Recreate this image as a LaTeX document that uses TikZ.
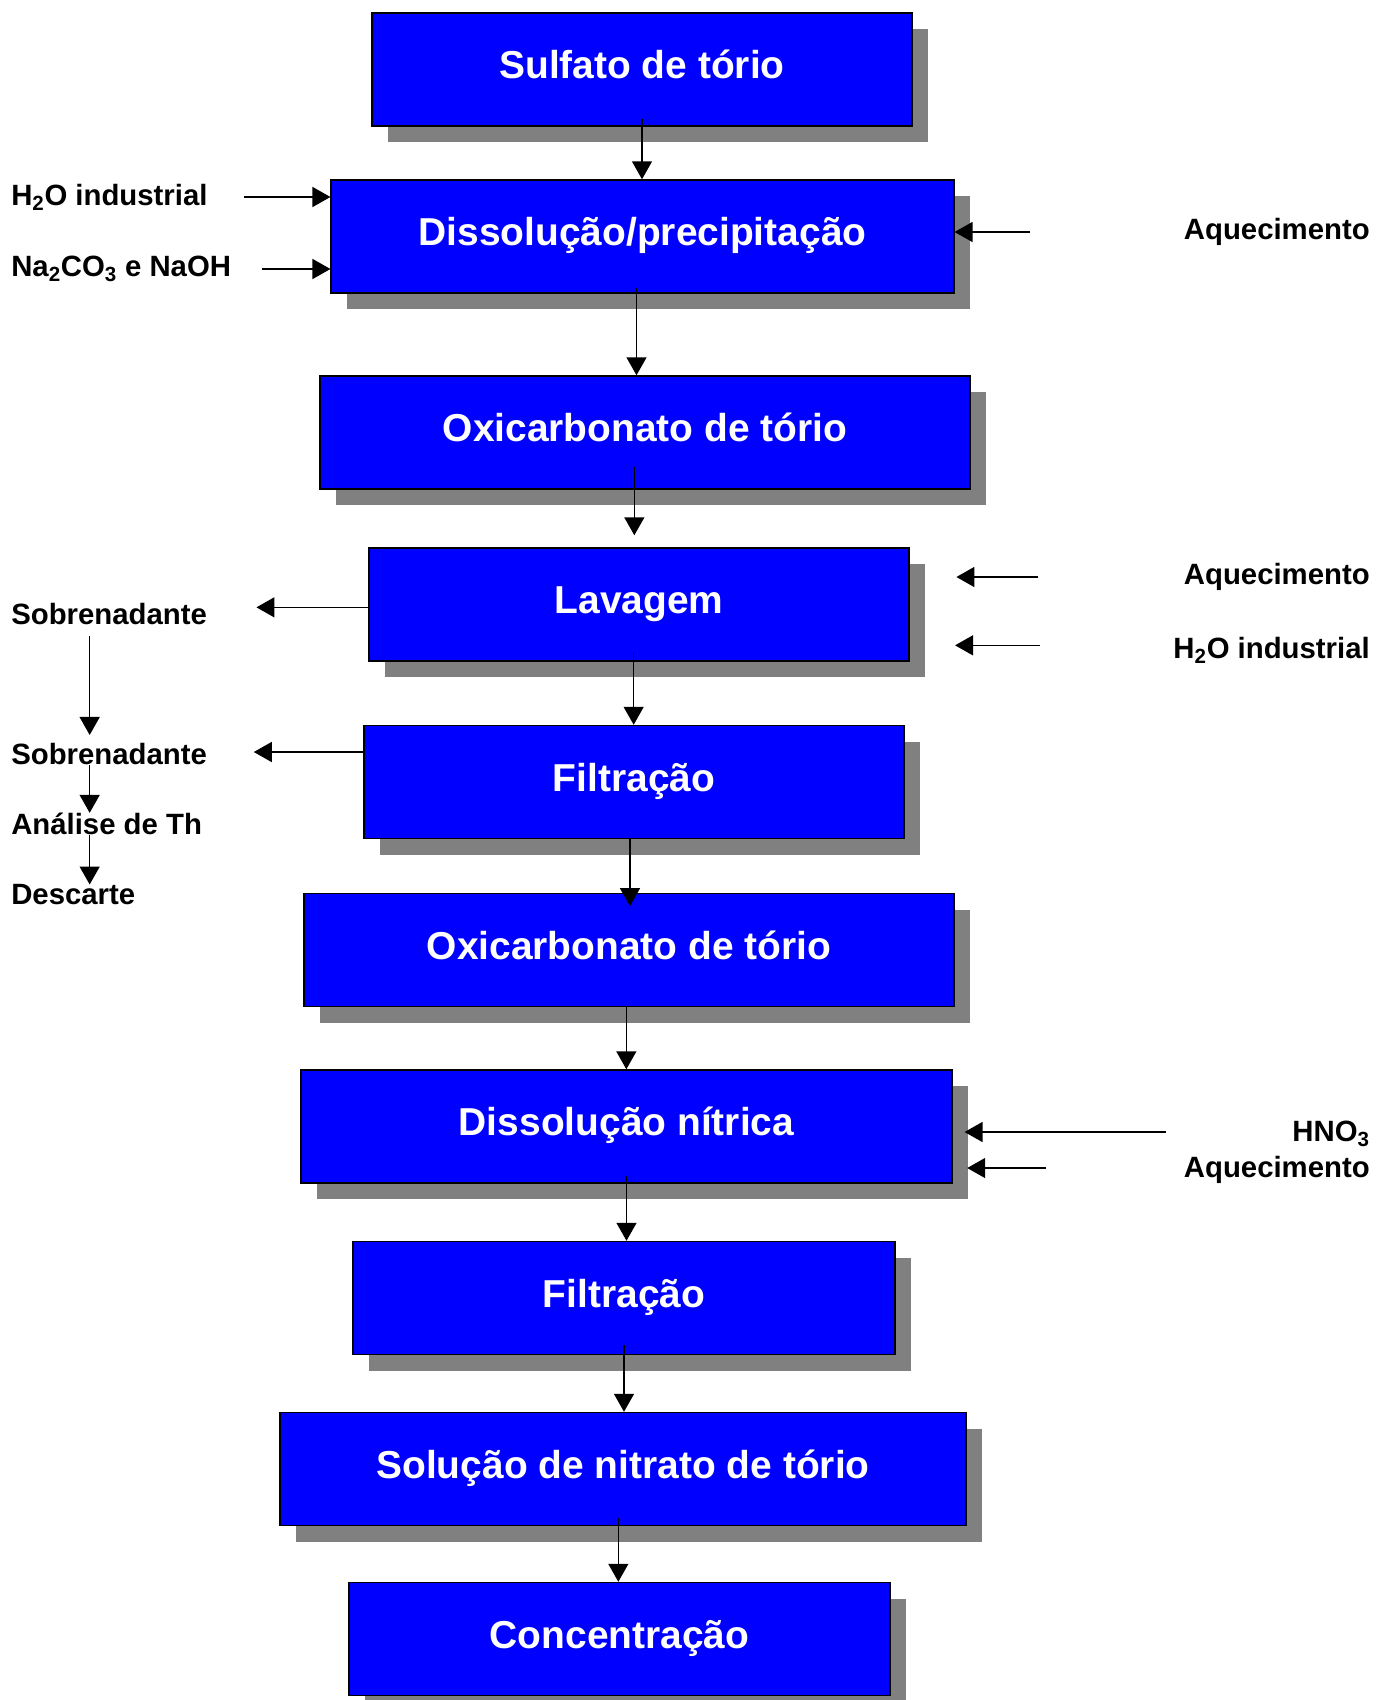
\documentclass[tikz,border=0pt]{standalone}
\usepackage{fontspec}
\setmainfont{Liberation Sans}
\usetikzlibrary{shadows,arrows.meta}

\begin{document}
\begin{tikzpicture}[x=0.75pt, y=-0.75pt,
    etapa/.style ={rectangle, draw=black, line width=1.1pt, fill=blue, text=white,
      font=\fontsize{29.2}{35}\selectfont\bfseries, minimum height=84.75pt, inner sep=0pt,
      text height=21pt, text depth=7pt,
      drop shadow={shadow xshift=12pt, shadow yshift=-12pt, fill=gray, opacity=1}},
    rotulo/.style ={font=\fontsize{22}{26}\selectfont\bfseries, inner sep=0pt},
    seta/.style ={-{Triangle[length=13.5pt, width=15pt]}, line width=1.1pt}]
   \useasboundingbox (0,0) rectangle (1389,1700);

   \node[etapa, minimum width=405pt]   (S) at (642,69.5)    {Sulfato de tório};
   \node[etapa, minimum width=467pt]   (D) at (642.5,236.5) {Dissolução/precipitação};
   \node[etapa, minimum width=487.5pt] (O) at (645,432.5)   {Oxicarbonato de tório};
   \node[etapa, minimum width=405pt]   (L) at (639,604.5)   {Lavagem};
   \node[etapa, minimum width=405pt]   (F) at (634,782)     {Filtração};
   \node[etapa, minimum width=487.5pt] (P) at (629,950)     {Oxicarbonato de tório};
   \node[etapa, minimum width=488pt]   (N) at (626.5,1126.5){Dissolução nítrica};
   \node[etapa, minimum width=406.5pt] (G) at (624,1298)    {Filtração};
   \node[etapa, minimum width=514.5pt] (T) at (623,1469)    {Solução de nitrato de tório};
   \node[etapa, minimum width=405.75pt](C) at (619.5,1639)  {Concentração};

   \node[rotulo, anchor=west] (aguaA) at (11,197)  {H\textsubscript{2}O industrial};
   \node[rotulo, anchor=west] (soda)  at (11,269)  {Na\textsubscript{2}CO\textsubscript{3} e NaOH};
   \node[rotulo, anchor=east] (aqA)   at (1370,232) {Aquecimento};
   \node[rotulo, anchor=west] (sobA)  at (11,614)  {Sobrenadante};
   \node[rotulo, anchor=west] (sobB)  at (11,754)  {Sobrenadante};
   \node[rotulo, anchor=west] (anal)  at (11,824)  {Análise de Th};
   \node[rotulo, anchor=west] (desc)  at (11,895)  {Descarte};
   \node[rotulo, anchor=east] (aqB)   at (1370,577) {Aquecimento};
   \node[rotulo, anchor=east] (aguaB) at (1370,650) {H\textsubscript{2}O industrial};
   \node[rotulo, anchor=east] (hno)   at (1370,1134) {HNO\textsubscript{3}};
   \node[rotulo, anchor=east] (aqC)   at (1370,1170) {Aquecimento};

   % fluxo principal
   \draw[seta] ([yshift=6pt]S.south) -- (S.south |- D.north);
   \draw[seta] ([yshift=4.5pt,xshift=-4.5pt]D.south) -- ([xshift=-4.5pt]D.south |- O.north);
   \draw[seta, shorten >=9pt] ([yshift=17pt,xshift=-8pt]O.south) -- ([xshift=-8pt]O.south |- L.north);
   \draw[seta] ([yshift=7.5pt,xshift=-4pt]L.south) -- ([xshift=-4pt]L.south |- F.north);
   \draw[seta, shorten >=-10pt] ([xshift=-3pt]F.south) -- ([xshift=-3pt]F.south |- P.north);
   \draw[seta] ([xshift=-2pt]P.south) -- ([xshift=-2pt]P.south |- N.north);
   \draw[seta] ([yshift=6pt]N.south) -- (N.south |- G.north);
   \draw[seta] ([yshift=7.5pt]G.south) -- (G.south |- T.north);
   \draw[seta] ([yshift=6pt,xshift=-3.5pt]T.south) -- ([xshift=-3.5pt]T.south |- C.north);

   % entradas e saidas
   \draw[seta, shorten <=27pt] (aguaA.east) -- (aguaA.east -| D.west);
   \draw[seta, shorten <=23pt] (soda.east) -- (soda.east -| D.west);
   \draw[seta, shorten <=115pt] (aqA.west) -- (aqA.west -| D.east);
   \draw[seta, shorten >=37pt] ([yshift=5pt]sobA.east -| L.west) -- ([yshift=5pt]sobA.east);
   \draw[seta, shorten >=35pt] ([yshift=1.5pt]sobB.east -| F.west) -- ([yshift=1.5pt]sobB.east);
   \draw[seta, shorten <=8.5pt, shorten >=6pt] ([xshift=59pt]sobA.south west) -- ([xshift=59pt]sobB.north west);
   \draw[seta] ([xshift=59pt]sobB.south west) -- ([xshift=59pt]anal.north west);
   \draw[seta] ([xshift=59pt]anal.south west) -- ([xshift=59pt]desc.north west);
   \draw[seta, shorten <=109.5pt, shorten >=35pt] (aqB.west) -- (aqB.west -| L.east);
   \draw[seta, shorten <=100pt, shorten >=34pt] ([yshift=3.5pt]aguaB.west) -- ([yshift=3.5pt]aguaB.west -| L.east);
   \draw[seta, shorten <=95pt, shorten >=9pt] ([yshift=1.5pt]hno.west) -- ([yshift=1.5pt]hno.west -| N.east);
   \draw[seta, shorten <=103pt, shorten >=11pt] ([yshift=1.5pt]aqC.west) -- ([yshift=1.5pt]aqC.west -| N.east);
 \end{tikzpicture}
\end{document}
